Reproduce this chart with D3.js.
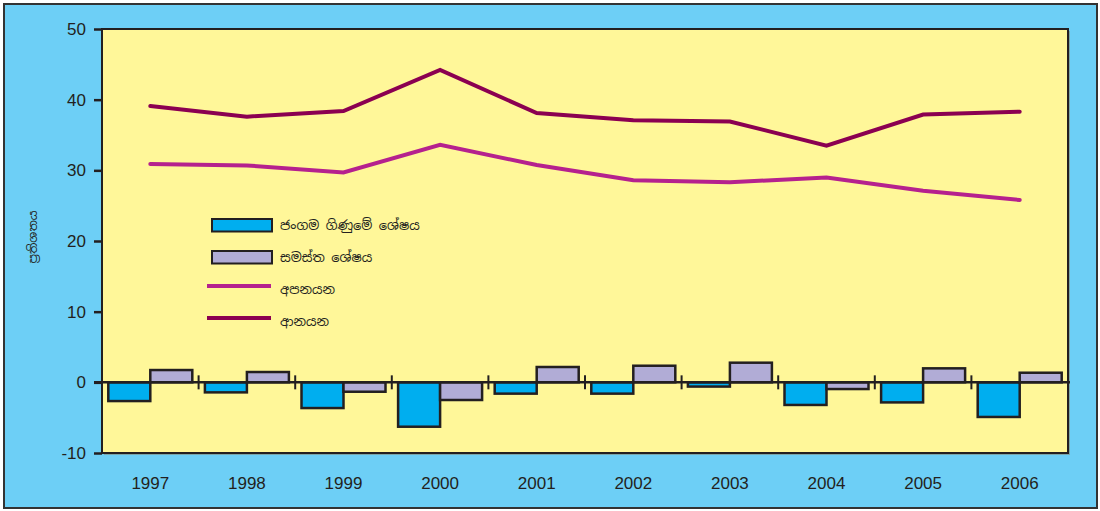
<!DOCTYPE html>
<html><head><meta charset="utf-8">
<script src="https://cdn.jsdelivr.net/npm/d3@7"></script>
<style>body{margin:0;background:#fff}svg{display:block}</style>
</head><body><svg id="c" width="1100" height="511"></svg>
<script>
const years = ["1997","1998","1999","2000","2001","2002","2003","2004","2005","2006"];
const currentAccount = [-2.65,-1.42,-3.64,-6.28,-1.6,-1.6,-0.6,-3.2,-2.84,-4.9];
const overallBalance = [1.74,1.46,-1.33,-2.5,2.17,2.35,2.78,-0.95,1.98,1.36];
const exportsS = [30.9,30.7,29.7,33.6,30.75,28.6,28.3,29.0,27.1,25.8];
const importsS = [39.1,37.6,38.4,44.2,38.1,37.1,36.9,33.5,37.9,38.3];
const yTicks = [-10,0,10,20,30,40,50];
const legendLabels = ["ජංගම ගිණුමේ ශේෂය","සමස්ත ශේෂය","අපනයන","ආනයන"];
const yTitle = "ප්‍රතිශතය";

const svg = d3.select("#c");
const L=102,T=29,R=1068,B=453;
const font = "'Liberation Sans', Arial, sans-serif";
const sinh = "'Noto Sans Sinhala','Noto Sans', sans-serif";

svg.append("rect").attr("x",4).attr("y",4).attr("width",1093).attr("height",504)
  .attr("fill","#6dcff6").attr("stroke","#333").attr("stroke-width",2);

const x = d3.scaleBand().domain(years).range([L,R]);
const y = d3.scaleLinear().domain([-10,50]).range([B,T]);

// shadow + plot bg
svg.append("rect").attr("x",L+2).attr("y",T+2).attr("width",R-L).attr("height",B-T)
  .attr("fill","#8a8060").attr("opacity",0.5);
svg.append("rect").attr("x",L).attr("y",T).attr("width",R-L).attr("height",B-T)
  .attr("fill","#fff799").attr("stroke","#231f20").attr("stroke-width",2);

// y axis
const ya = svg.append("g").attr("transform",`translate(${L},0)`)
  .call(d3.axisLeft(y).tickValues(yTicks).tickSize(8).tickPadding(8).tickFormat(d=>String(d)));
ya.select(".domain").remove();
ya.selectAll("line").attr("stroke","#231f20").attr("stroke-width",2.5);
ya.selectAll("text").attr("font-family",font).attr("font-size",17).attr("fill","#231f20");

// x labels
const xa = svg.append("g").attr("transform",`translate(0,${B})`)
  .call(d3.axisBottom(x).tickSize(0).tickPadding(24));
xa.select(".domain").remove();
xa.selectAll("text").attr("font-family",font).attr("font-size",17).attr("fill","#231f20");

// bars
const bw = 42;
const g = svg.append("g");
function bars(vals, off, color){
  g.selectAll(null).data(vals).enter().append("rect")
    .attr("x",(d,i)=>x(years[i])+x.bandwidth()/2+off)
    .attr("y",d=>y(Math.max(0,d)))
    .attr("width",bw)
    .attr("height",d=>Math.abs(y(d)-y(0)))
    .attr("fill",color).attr("stroke","#231f20").attr("stroke-width",2.5);
}
bars(currentAccount,-bw,"#00aeef");
bars(overallBalance,0,"#b1acd6");

// zero line and ticks
svg.append("line").attr("x1",L-8).attr("x2",R+2).attr("y1",y(0)).attr("y2",y(0))
  .attr("stroke","#231f20").attr("stroke-width",2.5);
svg.selectAll(null).data(years.slice(1).concat(["end"])).enter().append("line")
  .attr("x1",d=>d==="end"?R:x(d)).attr("x2",d=>d==="end"?R:x(d))
  .attr("y1",y(0)-7).attr("y2",y(0)+7)
  .attr("stroke","#231f20").attr("stroke-width",2);

// lines
const line = d3.line().x((d,i)=>x(years[i])+x.bandwidth()/2).y(d=>y(d));
svg.append("path").attr("d",line(exportsS)).attr("fill","none").attr("stroke","#b5218e")
  .attr("stroke-width",4).attr("stroke-linecap","round");
svg.append("path").attr("d",line(importsS)).attr("fill","none").attr("stroke","#8b0051")
  .attr("stroke-width",4).attr("stroke-linecap","round");

// legend
const lg = svg.append("g");
lg.append("rect").attr("x",212).attr("y",219).attr("width",60).attr("height",12.5)
  .attr("fill","#00aeef").attr("stroke","#231f20").attr("stroke-width",2);
lg.append("rect").attr("x",212).attr("y",251).attr("width",60).attr("height",12.5)
  .attr("fill","#b1acd6").attr("stroke","#231f20").attr("stroke-width",2);
lg.append("line").attr("x1",207).attr("x2",271).attr("y1",286).attr("y2",286)
  .attr("stroke","#b5218e").attr("stroke-width",4);
lg.append("line").attr("x1",207).attr("x2",271).attr("y1",318).attr("y2",318)
  .attr("stroke","#8b0051").attr("stroke-width",4);
const ly=[225,257,289,321];
lg.selectAll(null).data(legendLabels).enter().append("text")
  .attr("x",280).attr("y",(d,i)=>ly[i]).attr("dy","0.35em")
  .attr("font-family",sinh).attr("font-size",13).attr("fill","#231f20").text(d=>d);

// y title
svg.append("text").attr("transform","translate(33,237) rotate(-90)")
  .attr("text-anchor","middle").attr("dy","0.35em")
  .attr("font-family",sinh).attr("font-size",12).attr("fill","#231f20").text(yTitle);
</script></body></html>
